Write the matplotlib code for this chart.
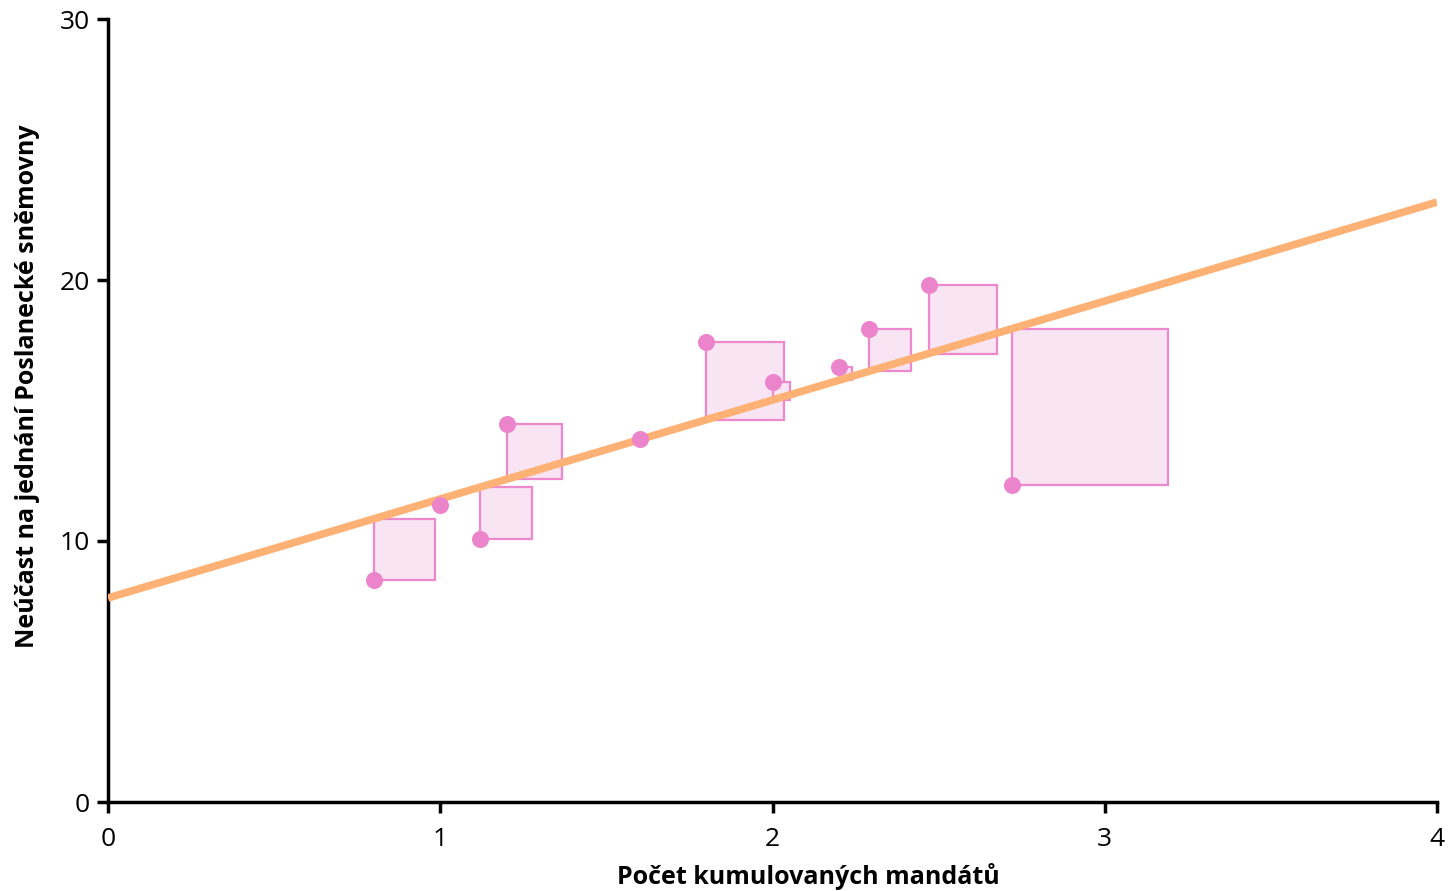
import numpy as np
import matplotlib.pyplot as plt
from matplotlib.patches import Rectangle

x_vals = [0.80, 1.00, 1.12, 1.20, 1.60, 1.80, 2.00, 2.20, 2.29, 2.47, 2.72]
y_vals = [8.5, 11.38, 10.08, 14.48, 13.9, 17.62, 16.09, 16.67, 18.12, 19.8, 12.15]
x_ticks = [0, 1, 2, 3, 4]
y_ticks = [0, 10, 20, 30]
x_label = "Počet kumulovaných mandátů"
y_label = "Neúčast na jednání Poslanecké sněmovny"

plt.rcParams['font.family'] = ['Open Sans', 'DejaVu Sans']

W, H = 1456, 891
fig = plt.figure(figsize=(W / 100, H / 100), dpi=100)
left, right, bottom, top = 108 / W, 1437 / W, (H - 802) / H, (H - 19) / H
ax = fig.add_axes([left, bottom, right - left, top - bottom])
ax.set_xlim(0, 4)
ax.set_ylim(0, 30)

xs = np.array(x_vals)
ys = np.array(y_vals)
slope, intercept = np.polyfit(xs, ys, 1)

# pixels per data unit
px_x = (right - left) * W / 4
px_y = (top - bottom) * H / 30
ratio = px_y / px_x

sq_edge = '#ee88cc'
sq_fill = '#f9e4f3'
for xi, yi in zip(xs, ys):
    fit = intercept + slope * xi
    side = abs(fit - yi)
    y0 = min(yi, fit)
    ax.add_patch(Rectangle((xi, y0), side * ratio, side, facecolor=sq_fill,
                           edgecolor=sq_edge, linewidth=1.6, zorder=2))

lx = np.array([0, 4])
ax.plot(lx, intercept + slope * lx, color='#fdb174', linewidth=5.5, zorder=3,
        solid_capstyle='butt')
ax.scatter(xs, ys, s=150, color='#ec84cc', zorder=4, linewidths=0)

ax.set_xticks(x_ticks)
ax.set_yticks(y_ticks)
for s in ['top', 'right']:
    ax.spines[s].set_visible(False)
for s in ['left', 'bottom']:
    ax.spines[s].set_linewidth(2.5)
    ax.spines[s].set_color('black')
ax.tick_params(direction='out', length=8, width=2.5, labelsize=19)
ax.tick_params(axis='x', pad=10)
ax.tick_params(axis='y', pad=5)
ax.set_xlabel(x_label, fontsize=18, fontweight='bold', va='center')
ax.set_ylabel(y_label, fontsize=18, fontweight='bold', va='center')
ax.xaxis.set_label_coords((808 - 108) / 1329, -74 / 783)
ax.yaxis.set_label_coords(-80 / 1329, (802 - 386) / 783)
for sp in ax.spines.values():
    sp.set_clip_on(False)

fig.savefig('out.png', dpi=100)
